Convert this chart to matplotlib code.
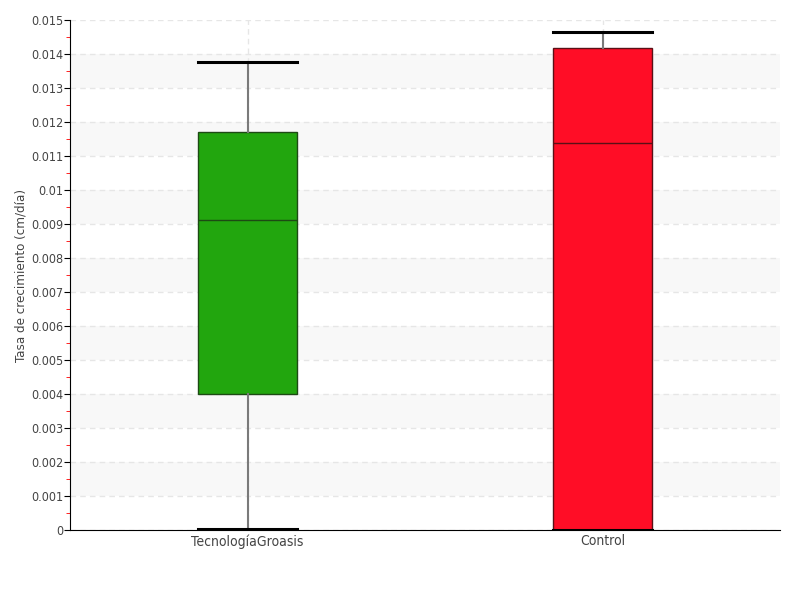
import matplotlib
matplotlib.use("Agg")
import matplotlib.pyplot as plt
from matplotlib.ticker import MultipleLocator, FormatStrFormatter

categories = ["TecnologíaGroasis", "Control"]
whislo = [0.00003, 0.0]
q1 = [0.0040, 0.0]
med = [0.00912, 0.01138]
q3 = [0.0117, 0.01418]
whishi = [0.01376, 0.01465]
colors = ["#22a60e", "#ff0d26"]
edge_colors = ["#1d4a14", "#5a1016"]

plt.rcParams["font.family"] = ["DejaVu Sans"]
plt.rcParams["font.stretch"] = "condensed"

fig = plt.figure(figsize=(8, 6), dpi=100)
ax = fig.add_axes([70 / 800, 70 / 600, 710 / 800, 510 / 600])

# alternating bands
for k in range(7):
	ax.axhspan((2 * k + 1) * 0.001, (2 * k + 2) * 0.001, color="#f8f8f8", zorder=0, lw=0)

stats = []
for i, name in enumerate(categories):
	stats.append({
		"label": name,
		"whislo": whislo[i],
		"q1": q1[i],
		"med": med[i],
		"q3": q3[i],
		"whishi": whishi[i],
		"fliers": [],
	})

bp = ax.bxp(
	stats,
	positions=range(len(categories)),
	widths=0.28,
	patch_artist=True,
	showfliers=False,
	whiskerprops={"color": "#7a7a7a", "linewidth": 1.5},
	capprops={"color": "black", "linewidth": 2.2},
	capwidths=0.28,
	zorder=3,
)
for patch, c, ec in zip(bp["boxes"], colors, edge_colors):
	patch.set_facecolor(c)
	patch.set_edgecolor(ec)
	patch.set_linewidth(1.0)
for line, ec in zip(bp["medians"], edge_colors):
	line.set_color(ec)
	line.set_linewidth(1.0)

ax.set_xlim(-0.5, 1.5)
ax.set_ylim(0, 0.015)
ax.yaxis.set_major_locator(MultipleLocator(0.001))
ax.yaxis.set_minor_locator(MultipleLocator(0.0005))
ax.yaxis.set_major_formatter(FormatStrFormatter("%g"))

ax.grid(True, axis="both", which="major", color="#e6e6e6", linestyle=(0, (4, 3)), linewidth=1, zorder=1)
ax.set_axisbelow(True)

for side in ["top", "right"]:
	ax.spines[side].set_visible(False)
ax.spines["left"].set_color("black")
ax.spines["bottom"].set_color("black")

ax.tick_params(axis="y", which="major", length=4, color="black", labelsize=9, labelcolor="#444444", pad=1)
ax.tick_params(axis="y", which="minor", length=3, color="red")
ax.tick_params(axis="x", length=0, labelsize=10, labelcolor="#444444", pad=3)

ax.set_ylabel("Tasa de crecimiento (cm/día)", fontsize=9.5, color="#444444")
ax.yaxis.set_label_coords(-0.06, 0.5)

fig.savefig("out.png", dpi=100)
